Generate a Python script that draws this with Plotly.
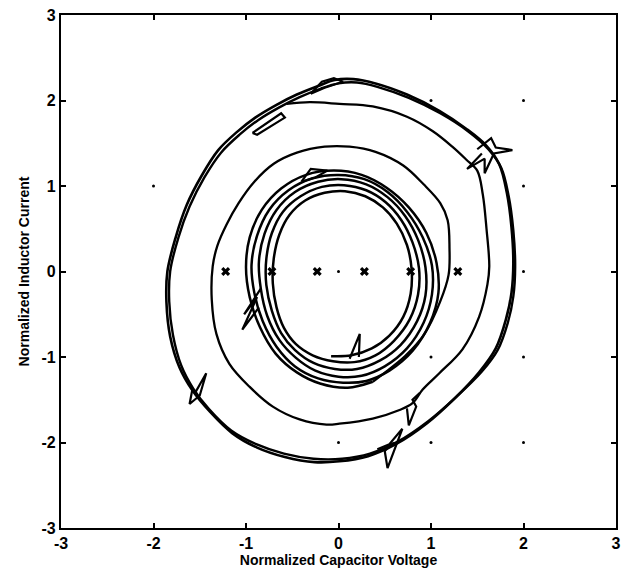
import plotly.graph_objects as go

# ---------------- data ----------------
X_TICKS = [-3, -2, -1, 0, 1, 2, 3]
X_TICK_LABELS = ["-3", "-2", "-1", "0", "1", "2", "3"]
Y_TICKS = [-3, -2, -1, 0, 1, 2, 3]
Y_TICK_LABELS = ["-3", "-2", "-1", "0", "1", "2", "3"]

# equilibrium markers on the voltage axis
EQ_X = [-1.22, -0.72, -0.23, 0.28, 0.78, 1.29]
EQ_Y = [0, 0, 0, 0, 0, 0]

# surviving dots of the dotted grid
GRID_X = [1, 2, 2, 2, 1, 2, 0, 1, 2, -2, 0]
GRID_Y = [2, 2, 1, 0, -1, -1, -2, -2, -2, 1, 0]

# outer limit cycle, first pass
OUTER1_X = [-1.85, -1.76, -1.64, -1.48, -1.30, -1.10, -0.90, -0.67, -0.45, -0.22, -0.04, 0.16,
            0.40, 0.74, 1.09, 1.38, 1.60, 1.74, 1.82, 1.87, 1.89, 1.87, 1.81, 1.70, 1.52, 1.26,
            0.95, 0.62, 0.32, 0.01, -0.26, -0.58, -0.88, -1.15, -1.39, -1.58, -1.72, -1.82, -1.86, -1.85]
OUTER1_Y = [0.00, 0.40, 0.78, 1.12, 1.42, 1.63, 1.80, 1.95, 2.07, 2.17, 2.24, 2.25,
            2.20, 2.07, 1.88, 1.67, 1.47, 1.25, 0.92, 0.52, 0.10, -0.25, -0.56, -0.90, -1.18, -1.48,
            -1.78, -2.02, -2.16, -2.22, -2.23, -2.17, -2.06, -1.89, -1.64, -1.39, -1.12, -0.76, -0.36, 0.00]

# outer limit cycle, second pass
OUTER2_X = [-1.82, -1.73, -1.61, -1.45, -1.27, -1.07, -0.87, -0.64, -0.42, -0.19, 0.00, 0.20,
            0.42, 0.76, 1.10, 1.40, 1.62, 1.76, 1.84, 1.89, 1.91, 1.89, 1.83, 1.72, 1.55, 1.28,
            0.97, 0.64, 0.34, 0.04, -0.27, -0.59, -0.89, -1.16, -1.40, -1.57, -1.70, -1.79, -1.83, -1.82]
OUTER2_Y = [0.00, 0.40, 0.76, 1.10, 1.39, 1.60, 1.77, 1.92, 2.04, 2.14, 2.20, 2.21,
            2.16, 2.03, 1.85, 1.64, 1.43, 1.21, 0.88, 0.48, 0.06, -0.29, -0.60, -0.92, -1.17, -1.46,
            -1.75, -1.99, -2.13, -2.19, -2.19, -2.13, -2.02, -1.86, -1.61, -1.37, -1.10, -0.74, -0.35, 0.00]

# trajectory spiralling inward from the outer cycle
SPIRAL_X = [-0.56, -0.31, 0.01, 0.37, 0.74, 1.02, 1.23, 1.38, 1.50, 1.56, 1.60, 1.63, 1.61,
            1.52, 1.34, 1.09, 0.91, 0.80, 0.66, 0.37, 0.01, -0.13, -0.42, -0.71, -0.96, -1.18,
            -1.32, -1.37, -1.36, -1.31, -1.21, -1.08, -0.91, -0.70, -0.45, -0.15, 0.12, 0.40,
            0.70, 0.92, 1.10, 1.18, 1.20, 1.19, 1.10, 0.93, 0.72, 0.48, 0.37]
SPIRAL_Y = [1.96, 1.98, 1.96, 1.93, 1.81, 1.64, 1.46, 1.31, 1.18, 0.90, 0.50, 0.06, -0.15,
            -0.53, -0.91, -1.19, -1.38, -1.54, -1.62, -1.72, -1.78, -1.79, -1.73, -1.58, -1.35, -1.08,
            -0.73, -0.33, 0.06, 0.30, 0.55, 0.80, 1.05, 1.26, 1.39, 1.46, 1.46, 1.40,
            1.24, 1.02, 0.80, 0.60, 0.27, -0.04, -0.35, -0.73, -0.99, -1.20, -1.29]

# inner cluster of tightly wound loops
CLUSTER_X = [0.37, 0.10, -0.20, -0.45, -0.68, -0.85, -0.96, -1.00, -0.96, -0.83, -0.62, -0.35,
             -0.05, 0.25, 0.52, 0.76, 0.95, 1.06, 1.08, 0.99, 0.80, 0.55, 0.30,
             0.05, -0.22, -0.47, -0.67, -0.82, -0.91, -0.94, -0.88, -0.75, -0.54, -0.28,
             0.00, 0.28, 0.53, 0.74, 0.91, 1.01, 1.01, 0.92, 0.74, 0.50, 0.25,
             0.00, -0.25, -0.46, -0.64, -0.77, -0.84, -0.86, -0.80, -0.67, -0.47, -0.22,
             0.03, 0.30, 0.53, 0.72, 0.86, 0.94, 0.94, 0.85, 0.67, 0.45, 0.20,
             -0.04, -0.27, -0.47, -0.62, -0.72, -0.78, -0.78, -0.72, -0.60, -0.41, -0.18,
             0.06, 0.30, 0.51, 0.68, 0.80, 0.87, 0.86, 0.77, 0.60, 0.40, 0.17,
             -0.06, -0.28, -0.46, -0.59, -0.67, -0.71, -0.70, -0.64, -0.53, -0.36, -0.15,
             0.07, 0.29, 0.48, 0.63, 0.74, 0.79, 0.78, 0.70, 0.55, 0.36, 0.14, -0.08]
CLUSTER_Y = [-1.29, -1.36, -1.31, -1.18, -0.96, -0.65, -0.30, 0.05, 0.40, 0.72, 0.97, 1.13,
             1.18, 1.13, 0.98, 0.75, 0.45, 0.10, -0.25, -0.60, -0.93, -1.16, -1.28,
             -1.30, -1.25, -1.11, -0.88, -0.58, -0.25, 0.08, 0.42, 0.72, 0.95, 1.09,
             1.13, 1.08, 0.93, 0.70, 0.40, 0.07, -0.27, -0.60, -0.90, -1.11, -1.22,
             -1.23, -1.16, -1.01, -0.80, -0.52, -0.20, 0.12, 0.44, 0.72, 0.93, 1.05,
             1.08, 1.02, 0.87, 0.65, 0.37, 0.05, -0.28, -0.58, -0.86, -1.04, -1.14,
             -1.14, -1.07, -0.92, -0.72, -0.46, -0.16, 0.15, 0.45, 0.70, 0.88, 0.99,
             1.01, 0.95, 0.81, 0.60, 0.34, 0.04, -0.27, -0.56, -0.81, -0.98, -1.06,
             -1.05, -0.98, -0.85, -0.66, -0.42, -0.14, 0.15, 0.43, 0.66, 0.83, 0.92,
             0.94, 0.88, 0.75, 0.56, 0.31, 0.03, -0.26, -0.53, -0.75, -0.90, -0.98, -0.99]

# switching glitches (spikes) along the trajectories
GLITCHES = {
    "g1": ([1.50, 1.65, 1.70, 1.88, 1.68, 1.58, 1.58, 1.39, 1.55],
           [1.43, 1.56, 1.45, 1.42, 1.38, 1.15, 1.32, 1.20, 1.38]),
    "g2": ([-1.62, -1.55, -1.43, -1.50, -1.61, -1.58],
           [-1.30, -1.42, -1.19, -1.45, -1.55, -1.38]),
    "g3": ([0.42, 0.55, 0.69, 0.62, 0.53, 0.50, 0.60],
           [-2.08, -2.02, -1.84, -2.05, -2.30, -2.10, -2.00]),
    "g4": ([0.88, 0.80, 0.84, 0.76, 0.74],
           [-1.42, -1.50, -1.58, -1.80, -1.60]),
    "g5": ([-0.93, -0.62, -0.58, -0.88, -0.93],
           [1.62, 1.85, 1.80, 1.60, 1.62]),
    "g6": ([-0.30, -0.18, -0.05, 0.05, -0.15, -0.30],
           [2.08, 2.22, 2.26, 2.22, 2.15, 2.08]),
    "g7": ([-0.84, -1.02, -0.88, -1.04, -0.86],
           [-0.20, -0.50, -0.30, -0.68, -0.42]),
    "g8": ([0.12, 0.23, 0.22],
           [-1.02, -0.73, -1.00]),
    "g9": ([-0.40, -0.30, -0.12, -0.25, -0.40],
           [1.05, 1.20, 1.18, 1.10, 1.05]),
}

# ---------------- figure ----------------
FONT = "Arial, Liberation Sans, Helvetica, sans-serif"
fig = go.Figure()

fig.add_trace(go.Scatter(x=GRID_X, y=GRID_Y, mode="markers",
                         marker=dict(color="black", size=3), hoverinfo="skip"))

for xs, ys, w in [(OUTER1_X, OUTER1_Y, 2.6), (OUTER2_X, OUTER2_Y, 2.4)]:
    fig.add_trace(go.Scatter(x=xs, y=ys, mode="lines",
                             line=dict(color="black", width=w, shape="spline", smoothing=1.0)))

fig.add_trace(go.Scatter(x=SPIRAL_X, y=SPIRAL_Y, mode="lines",
                         line=dict(color="black", width=2.3, shape="spline", smoothing=1.0)))
fig.add_trace(go.Scatter(x=CLUSTER_X, y=CLUSTER_Y, mode="lines",
                         line=dict(color="black", width=2.5, shape="spline", smoothing=1.0)))

for name, (gx, gy) in GLITCHES.items():
    fig.add_trace(go.Scatter(x=gx, y=gy, mode="lines", name=name,
                             line=dict(color="black", width=2.2)))

fig.add_trace(go.Scatter(x=EQ_X, y=EQ_Y, mode="markers",
                         marker=dict(symbol="x", color="black", size=8,
                                     line=dict(width=0))))

axis_common = dict(
    range=[-3, 3], showgrid=False, zeroline=False, automargin=False,
    showline=True, linewidth=2.2, linecolor="black", mirror="ticks",
    ticks="inside", ticklen=5, tickwidth=1.5, tickcolor="black",
    ticklabeloverflow="allow",
    tickfont=dict(family=FONT, size=16, color="black", weight="bold"),
)

fig.update_layout(
    width=621, height=576,
    margin=dict(l=61, r=5, t=15, b=48),
    paper_bgcolor="white", plot_bgcolor="white",
    showlegend=False,
    xaxis=dict(axis_common, tickvals=X_TICKS, ticktext=X_TICK_LABELS,
               title=dict(text="Normalized Capacitor Voltage", standoff=0,
                          font=dict(family=FONT, size=14, color="black", weight="bold"))),
    yaxis=dict(axis_common, tickvals=Y_TICKS, ticktext=Y_TICK_LABELS,
               title=dict(text="Normalized Inductor Current", standoff=9,
                          font=dict(family=FONT, size=14, color="black", weight="bold"))),
)

# remove the default page margin so the 621x576 figure fills the window exactly
fig.write_html("out.html",
               config={"displayModeBar": False},
               post_script="document.body.style.margin='0';document.body.style.overflow='hidden';")
